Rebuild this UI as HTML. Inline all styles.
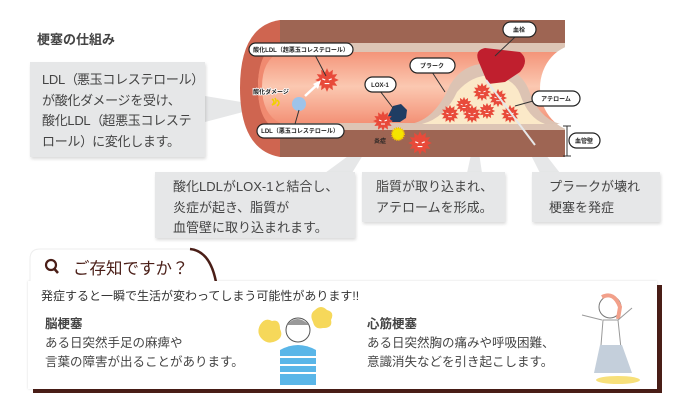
<!DOCTYPE html>
<html><head><meta charset="utf-8">
<style>
body{margin:0;width:679px;height:401px;background:#fff;overflow:hidden;position:relative;font-family:"Liberation Sans","Noto Sans CJK JP",sans-serif;color:#3a3a3a}
.box{position:absolute;background:#e6e7e8;box-shadow:1px 2px 3px rgba(0,0,0,.15);font-size:13px;line-height:20.5px;color:#444;white-space:nowrap}
.abs{position:absolute}
.p{letter-spacing:-3px;margin-right:2px}
</style></head><body>
<div class="abs" style="left:40px;top:-15px;font-size:12px;color:#f07a6a;white-space:nowrap">酸化悪玉LDL（超悪玉コレステロール）が血管に与える影響とは</div>
<div class="abs" style="left:37px;top:29px;font-size:13px;font-weight:bold;color:#444">梗塞の仕組み</div>

<svg class="abs" style="left:0;top:0" width="679" height="250" viewBox="0 0 679 250">
<defs>
<linearGradient id="lum" x1="0" y1="0" x2="0" y2="1">
<stop offset="0" stop-color="#f2876b"/><stop offset=".5" stop-color="#fbc8b1"/><stop offset="1" stop-color="#f2876b"/></linearGradient>
<symbol id="st" viewBox="-11 -11 22 22" overflow="visible">
<polygon fill="#e84a3a" points="10,0 6.28,1.68 8.66,5 4.6,4.6 5,8.66 1.68,6.28 0,10 -1.68,6.28 -5,8.66 -4.6,4.6 -8.66,5 -6.28,1.68 -10,0 -6.28,-1.68 -8.66,-5 -4.6,-4.6 -5,-8.66 -1.68,-6.28 0,-10 1.68,-6.28 5,-8.66 4.6,-4.6 8.66,-5 6.28,-1.68"/>
<path d="M-4,-1 l2.5,1 M4,-1 l-2.5,1 M-2,3 h4" stroke="#fff" stroke-width="1" fill="none"/>
</symbol>
</defs>
<polygon points="205,96 205,122 266,106" fill="#e6e7e8"/>
<polygon points="325,173 352,173 374,137" fill="#e6e7e8"/>
<polygon points="467,173 482,173 476,132" fill="#e6e7e8"/>
<polygon points="540,173 560,173 503,100" fill="#e6e7e8"/>
<path d="M280,20 H565 V157 H280 Q240,150 240,88 Q240,26 280,20 Z" fill="#cf6550"/>
<rect x="280" y="20" width="285" height="137" fill="#9e6553"/>
<path d="M285,43 H565 V130 H285 Q258,125 258,87 Q258,49 285,43 Z" fill="url(#lum)"/>
<rect x="280" y="43" width="285" height="9" fill="#ddc5b5"/>
<rect x="280" y="123" width="285" height="7" fill="#ddc5b5"/>
<path d="M280,43 V52 Q262,60 262,87 Q262,114 280,123 V130 Q258,125 258,87 Q258,49 280,43Z" fill="#f08a70"/>
<ellipse cx="580" cy="88" rx="40" ry="44" fill="#fff"/>
<rect x="565" y="20" width="40" height="140" fill="#fff"/>
<path d="M410,124 Q435,120 450,85 Q465,60 495,64 Q520,70 528,88 Q538,118 560,124 Z" fill="#dcc3b3"/>
<path d="M422,124 Q445,118 457,92 Q472,74 495,75 Q515,80 520,94 Q528,118 545,124 Z" fill="#fbe9c8"/>
<path d="M478,60 Q475,50 485,48 L520,52 Q530,60 520,72 L505,82 L488,84 Z" fill="#c01f2e"/>
<use href="#st" x="455" y="96" width="18" height="18"/>
<use href="#st" x="472" y="82" width="20" height="20"/>
<use href="#st" x="440" y="104" width="20" height="20"/>
<use href="#st" x="462" y="104" width="20" height="20"/>
<use href="#st" x="488" y="88" width="20" height="20"/>
<use href="#st" x="500" y="104" width="20" height="20"/>
<use href="#st" x="478" y="102" width="18" height="18"/>
<line x1="486" y1="80" x2="535" y2="145" stroke="#e6e7e8" stroke-width="2"/>
<use href="#st" x="314" y="67" width="26" height="26"/>
<path d="M388,116 l5,-10 l8,-2 l6,6 l-1,8 l-6,4 l-8,0 Z" fill="#1f3d63"/>
<use href="#st" x="372" y="110" width="22" height="22"/>
<circle cx="398" cy="134" r="6" fill="#f5e400" stroke="#f7c600" stroke-dasharray="1 1" stroke-width="2"/>
<use href="#st" x="407" y="130" width="26" height="26"/>
<circle cx="299" cy="104" r="7" fill="#9dc3ea"/>
<path d="M305,96 L318,84" stroke="#fff" stroke-width="2.5"/>
<polygon points="321,80 313,84 318,89" fill="#fff"/>
<path d="M272,99 q4,3 0,6 q6,-2 3,-7 M277,100 q4,3 0,6" stroke="#f0d000" stroke-width="1.5" fill="none"/>
<g stroke="#333" stroke-width="1"><line x1="315" y1="55" x2="326" y2="76"/><line x1="295" y1="124" x2="299" y2="110"/><line x1="380" y1="91" x2="393" y2="108"/><line x1="432" y1="72" x2="445" y2="92"/><line x1="515" y1="37" x2="495" y2="56"/><line x1="533" y1="101" x2="515" y2="106"/>
<line x1="567" y1="126" x2="567" y2="156"/><line x1="563" y1="126" x2="571" y2="126"/><line x1="563" y1="156" x2="571" y2="156"/></g>
<g fill="#fff" stroke="#222" stroke-width="1.2">
<rect x="249" y="43" width="104" height="13" rx="6.5"/>
<rect x="257" y="124" width="87" height="14" rx="7"/>
<rect x="365" y="77" width="31" height="15" rx="7.5"/>
<rect x="410" y="58" width="45" height="15" rx="7.5"/>
<rect x="503" y="22" width="33" height="15" rx="7.5"/>
<rect x="532" y="91" width="48" height="15" rx="7.5"/>
<rect x="569" y="133" width="31" height="15" rx="7.5"/>
</g>
<g font-size="6" font-weight="bold" fill="#222" text-anchor="middle" font-family="Liberation Sans,Noto Sans CJK JP,sans-serif">
<text x="301" y="52">酸化LDL（超悪玉コレステロール）</text>
<text x="300" y="133">LDL（悪玉コレステロール）</text>
<text x="380" y="87">LOX-1</text>
<text x="432" y="68">プラーク</text>
<text x="519" y="32">血栓</text>
<text x="556" y="101">アテローム</text>
<text x="584" y="143">血管壁</text>
<text x="271" y="94" fill="#fff" stroke="#fff" stroke-width="1.5">酸化ダメージ</text>
<text x="271" y="94">酸化ダメージ</text>
<text x="380" y="143">炎症</text>
</g>
</svg>

<div class="box" style="left:30px;top:62px;width:175px;height:95px;padding:0 0 0 12px;box-sizing:border-box;padding-top:8px;letter-spacing:-0.3px">LDL<span class="p">（</span>悪玉コレステロール<span class="p">）</span><br>が酸化ダメージを受け、<br>酸化LDL<span class="p">（</span>超悪玉コレステ<br>ロール<span class="p">）</span>に変化します。</div>
<div class="box" style="left:155px;top:172px;width:200px;height:66px;padding:5px 0 0 18px;box-sizing:border-box">酸化LDLがLOX-1と結合し、<br>炎症が起き、脂質が<br>血管壁に取り込まれます。</div>
<div class="box" style="left:362px;top:172px;width:143px;height:50px;padding:5px 0 0 14px;box-sizing:border-box">脂質が取り込まれ、<br>アテロームを形成。</div>
<div class="box" style="left:532px;top:172px;width:128px;height:50px;padding:5px 0 0 17px;box-sizing:border-box">プラークが壊れ<br>梗塞を発症</div>

<div class="abs" style="left:33px;top:285px;width:629px;height:108px;background:#4a1e17"></div>
<div class="abs" style="left:28px;top:281px;width:629px;height:108px;background:#fff;box-shadow:0 0 2px rgba(0,0,0,.15)"></div>
<svg class="abs" style="left:20px;top:245px" width="200" height="40"><path d="M10,37 V14 Q10,4 20,4 H172 Q190,6 196,37 Z" fill="#fff" stroke="#eee"/><path d="M170,4 Q190,6 196,37" stroke="#4a1e17" stroke-width="2.5" fill="none"/><rect x="9" y="36" width="190" height="4" fill="#fff"/><circle cx="31" cy="20" r="5" stroke="#4a1e17" stroke-width="2.2" fill="none"/><line x1="34.5" y1="24" x2="38" y2="28" stroke="#4a1e17" stroke-width="2.5"/></svg>
<div class="abs" style="left:73px;top:255px;font-size:16.5px;color:#4a1e17;white-space:nowrap">ご存知ですか？</div>
<div class="abs" style="left:41px;top:287px;font-size:12px;color:#333;white-space:nowrap">発症すると一瞬で生活が変わってしまう可能性があります!!</div>
<div class="abs" style="left:45px;top:313px;font-size:12.5px;font-weight:bold;color:#444">脳梗塞</div>
<div class="abs" style="left:45px;top:334px;font-size:12.5px;line-height:19px;color:#444;white-space:nowrap">ある日突然手足の麻痺や<br>言葉の障害が出ることがあります。</div>
<div class="abs" style="left:367px;top:313px;font-size:12.5px;font-weight:bold;color:#444">心筋梗塞</div>
<div class="abs" style="left:367px;top:334px;font-size:12.5px;line-height:19px;color:#444;white-space:nowrap">ある日突然胸の痛みや呼吸困難、<br>意識消失などを引き起こします。</div>
<svg class="abs" style="left:255px;top:305px" width="90" height="80">
<path d="M5,20 q5,-8 12,-4 q8,-2 8,8 q4,8 -4,12 q-8,4 -14,-2 q-6,-6 -2,-14Z" fill="#f6d85a"/>
<path d="M60,5 q6,-6 12,0 q8,2 4,10 q2,8 -8,8 q-8,2 -10,-6 q-4,-8 2,-12Z" fill="#f6d85a"/>
<circle cx="43" cy="25" r="12" fill="#fff" stroke="#555"/><path d="M32,20 q10,-12 22,0" fill="#999"/>
<path d="M25,45 q18,-10 36,0 v35 h-36 Z" fill="#5ab6e8"/>
<g stroke="#fff" stroke-width="2"><line x1="25" y1="52" x2="61" y2="52"/><line x1="25" y1="60" x2="61" y2="60"/><line x1="25" y1="68" x2="61" y2="68"/></g>
</svg>
<svg class="abs" style="left:570px;top:290px" width="80" height="95">
<circle cx="40" cy="17" r="11" fill="#fff" stroke="#777"/><path d="M32,7 q12,-6 18,10 l-2,12" stroke="#f2a08a" stroke-width="4" fill="none"/>
<path d="M32,30 l-20,-5 M48,30 l14,-12" stroke="#999" fill="none"/>
<path d="M33,30 h15 l4,38 h-22 Z" fill="#fff" stroke="#999"/>
<path d="M30,55 h22 l10,28 h-38 Z" fill="#c4cfdb"/>
<ellipse cx="48" cy="90" rx="22" ry="4" fill="#f7e07a"/>
</svg>
</body></html>
